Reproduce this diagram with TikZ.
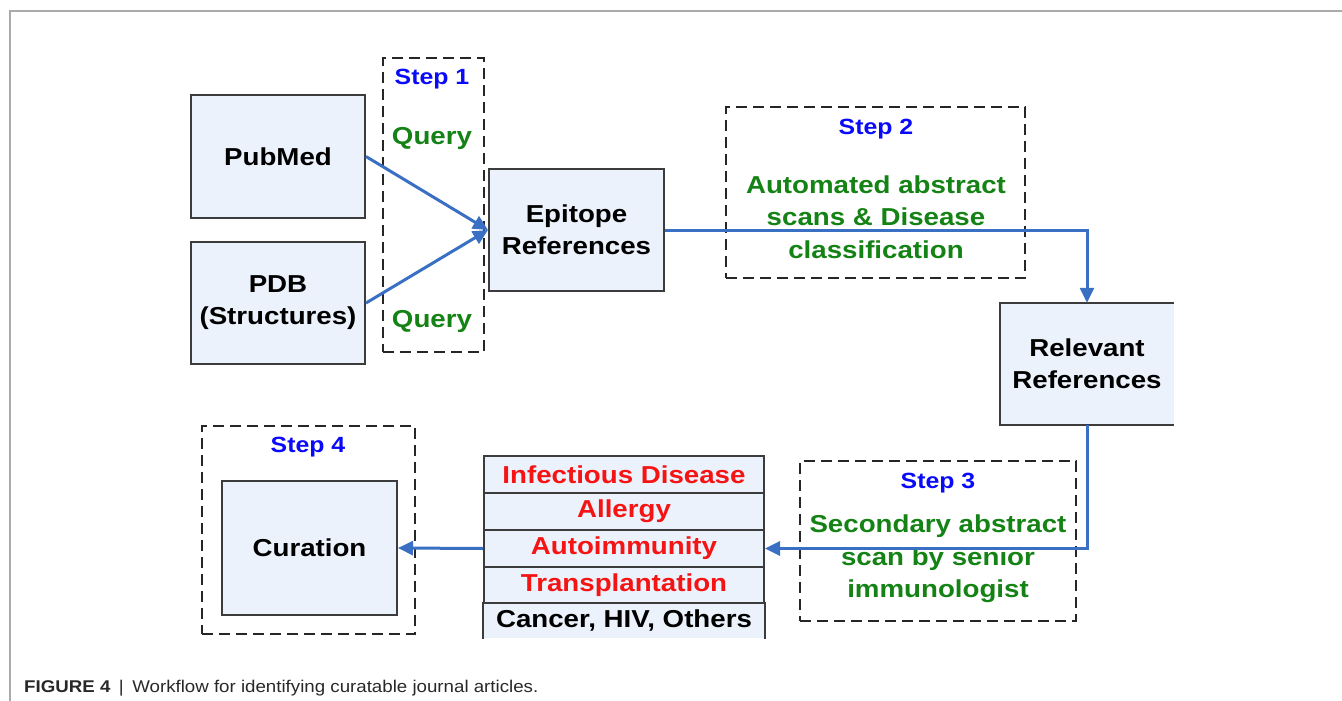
\documentclass[tikz,border=0pt]{standalone}
\usepackage{fontspec}
\usetikzlibrary{arrows.meta}
\newfontfamily\diag{Liberation Sans}[FakeStretch=1.13]
\newfontfamily\capfont{Liberation Sans}[FakeStretch=1.10]
\definecolor{stepblue}{RGB}{10,10,250}
\definecolor{stepgreen}{RGB}{20,130,20}
\definecolor{catred}{RGB}{245,20,20}
\definecolor{flowblue}{RGB}{58,112,196}
\definecolor{boxfill}{RGB}{236,242,252}
\definecolor{boxline}{RGB}{60,60,60}
\definecolor{framegray}{RGB}{170,170,170}
\definecolor{captext}{RGB}{40,40,40}
\tikzset{
  box/.style={draw=boxline, fill=boxfill, line width=2pt, inner sep=0pt,
    font=\diag\bfseries\fontsize{24.5}{32}\selectfont, align=center},
  openbox/.style={fill=boxfill, inner sep=0pt,
    font=\diag\bfseries\fontsize{24.5}{32}\selectfont, align=center},
  dbox/.style={draw=black!85, line width=2.2pt, dash pattern=on 11pt off 6pt, inner sep=0pt},
  steplabel/.style={text=stepblue, font=\diag\bfseries\fontsize{22}{30}\selectfont, inner sep=0pt},
  gtext/.style={text=stepgreen, font=\diag\bfseries\fontsize{24.5}{32.5}\selectfont, align=center, inner sep=0pt},
  cat/.style={draw=boxline, fill=boxfill, line width=2pt, inner sep=0pt,
    minimum width=280pt, minimum height=37pt,
    font=\diag\bfseries\fontsize{24.5}{30}\selectfont},
  flow/.style={draw=flowblue, line width=3pt, -{Triangle[length=15pt,width=14pt]}},
}
\begin{document}
\begin{tikzpicture}[x=1pt,y=-1pt]
\useasboundingbox (0,0) rectangle (1342,701);
% page frame
\draw[framegray, line width=1.8pt] (10,701) -- (10,11) -- (1342,11);

% dashed step boxes
\node[dbox, minimum width=101pt, minimum height=294pt] (s1) at (433.5,205) {};
\node[dbox, minimum width=299pt, minimum height=171pt] (s2) at (875.5,192.5) {};
\node[dbox, minimum width=276pt, minimum height=160pt] (s3) at (938,541) {};
\node[dbox, minimum width=213pt, minimum height=208pt] (s4) at (308.5,530) {};

% step labels
\node[steplabel] (l1) at (432,79) {Step 1};
\node[steplabel] (l2) at (876,129) {Step 2};
\node[steplabel] (l3) at (938,483) {Step 3};
\node[steplabel] (l4) at (308,447) {Step 4};

% green texts
\node[gtext] (q1) at (432,138) {Query};
\node[gtext] (q2) at (432,321) {Query};
\node[gtext] (g2) at (876,217) {Automated abstract\\scans \& Disease\\classification};
\node[gtext] (g3) at (938,559) {Secondary abstract\\scan by senior\\immunologist};

% main boxes
\node[box, minimum width=174pt, minimum height=123pt] (pub) at (278,156.5) {PubMed};
\node[box, minimum width=174pt, minimum height=122pt] (pdb) at (278,303) {PDB\\(Structures)};
\node[box, minimum width=175pt, minimum height=122pt] (epi) at (576.5,230) {Epitope\\References};
\node[openbox, minimum width=174pt, minimum height=122pt] (rel) at (1087,364) {Relevant\\References};
\draw[boxline, line width=2pt] (rel.north east) -- (rel.north west) -- (rel.south west) -- (rel.south east);
\node[box, minimum width=175pt, minimum height=134pt] (cur) at (309.5,548) {Curation};

% category stack
\node[cat, text=catred] (inf) at (624,474.5) {Infectious Disease};
\node[cat, text=catred] (all) at (624,511.5) {Allergy};
\node[cat, text=catred] (aut) at (624,548.5) {Autoimmunity};
\node[cat, text=catred] (tra) at (624,585.5) {Transplantation};
\node[cat, draw=none, minimum height=34pt, text=black] (can) at (624,621) {Cancer, HIV, Others};
\draw[boxline, line width=2pt] (can.south west) -- (can.north west) -- (can.north east) -- (can.south east);

% connectors
\draw[flow] (pub.east) -- (epi.west);
\draw[flow] (pdb.east) -- (epi.west);
\draw[flow] (epi.east) -| (rel.north);
\draw[flow] (rel.south) |- (aut.east);
\draw[flow] (aut.west) -- (cur.east);

% caption
\node[anchor=base west, inner sep=0pt, text=captext, font=\capfont\fontsize{17}{19}\selectfont] (cap) at (24,692)
  {\textbf{FIGURE 4}\enspace|\enspace Workflow for identifying curatable journal articles.};
\end{tikzpicture}
\end{document}
